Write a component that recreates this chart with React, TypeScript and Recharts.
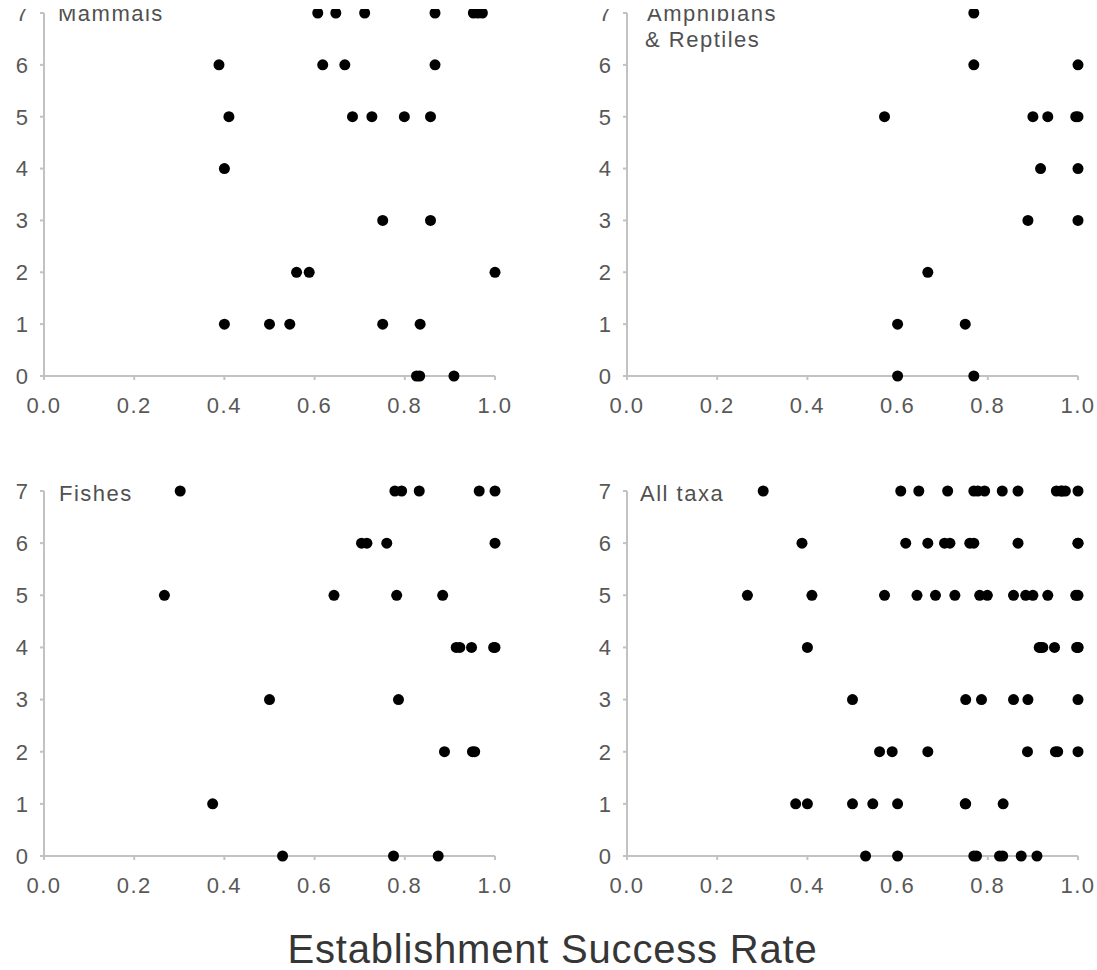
import React from 'react';
import { ScatterChart, Scatter, XAxis, YAxis } from 'recharts';

// Establishment success rate (x) vs. rank / category (y)
const mammals = [
  { rate: 0.607, n: 7 }, { rate: 0.647, n: 7 }, { rate: 0.711, n: 7 }, { rate: 0.867, n: 7 },
  { rate: 0.952, n: 7 }, { rate: 0.962, n: 7 }, { rate: 0.972, n: 7 },
  { rate: 0.388, n: 6 }, { rate: 0.618, n: 6 }, { rate: 0.667, n: 6 }, { rate: 0.867, n: 6 },
  { rate: 0.41, n: 5 }, { rate: 0.684, n: 5 }, { rate: 0.727, n: 5 }, { rate: 0.799, n: 5 }, { rate: 0.857, n: 5 },
  { rate: 0.4, n: 4 },
  { rate: 0.751, n: 3 }, { rate: 0.857, n: 3 },
  { rate: 0.56, n: 2 }, { rate: 0.588, n: 2 }, { rate: 1.0, n: 2 },
  { rate: 0.4, n: 1 }, { rate: 0.5, n: 1 }, { rate: 0.545, n: 1 }, { rate: 0.751, n: 1 }, { rate: 0.834, n: 1 },
  { rate: 0.826, n: 0 }, { rate: 0.833, n: 0 }, { rate: 0.909, n: 0 },
];

const amphibiansReptiles = [
  { rate: 0.769, n: 7 },
  { rate: 0.769, n: 6 }, { rate: 1.0, n: 6 },
  { rate: 0.571, n: 5 }, { rate: 0.9, n: 5 }, { rate: 0.933, n: 5 }, { rate: 0.995, n: 5 }, { rate: 1.0, n: 5 },
  { rate: 0.917, n: 4 }, { rate: 1.0, n: 4 },
  { rate: 0.889, n: 3 }, { rate: 1.0, n: 3 },
  { rate: 0.667, n: 2 },
  { rate: 0.6, n: 1 }, { rate: 0.75, n: 1 },
  { rate: 0.6, n: 0 }, { rate: 0.769, n: 0 },
];

const fishes = [
  { rate: 0.302, n: 7 }, { rate: 0.778, n: 7 }, { rate: 0.793, n: 7 }, { rate: 0.832, n: 7 }, { rate: 0.965, n: 7 }, { rate: 1.0, n: 7 },
  { rate: 0.704, n: 6 }, { rate: 0.716, n: 6 }, { rate: 0.76, n: 6 }, { rate: 1.0, n: 6 },
  { rate: 0.267, n: 5 }, { rate: 0.643, n: 5 }, { rate: 0.782, n: 5 }, { rate: 0.884, n: 5 },
  { rate: 0.914, n: 4 }, { rate: 0.922, n: 4 }, { rate: 0.948, n: 4 }, { rate: 0.997, n: 4 }, { rate: 1.0, n: 4 },
  { rate: 0.5, n: 3 }, { rate: 0.786, n: 3 },
  { rate: 0.888, n: 2 }, { rate: 0.95, n: 2 }, { rate: 0.955, n: 2 },
  { rate: 0.374, n: 1 },
  { rate: 0.529, n: 0 }, { rate: 0.775, n: 0 }, { rate: 0.874, n: 0 },
];

// "All taxa" panel pools the three groups
const allTaxa = [...mammals, ...amphibiansReptiles, ...fishes];

const xTicks = [0, 0.2, 0.4, 0.6, 0.8, 1.0];
const yTicks = [0, 1, 2, 3, 4, 5, 6, 7];
const panelLabels = ['Mammals', 'Amphibians', '& Reptiles', 'Fishes', 'All taxa'];
const axisTitle = 'Establishment Success Rate';

const FONT = '"Liberation Sans", Arial, Helvetica, sans-serif';
const AXIS = '#c2c2c2';
const TICK_TEXT = '#585858';

const Dot = (props: any) => {
  if (props.cx == null || props.cy == null) return null;
  return <circle cx={props.cx} cy={props.cy} r={5.5} fill="#000" />;
};

function Panel({ data, left, top, plotH }: { data: any[]; left: number; top: number; plotH: number }) {
  const tickStyle = { fontSize: 22, fill: TICK_TEXT, fontFamily: FONT, letterSpacing: 1.5 };
  return (
    <div style={{ position: 'absolute', left, top }}>
      <ScatterChart
        width={515}
        height={20 + plotH + 42 + 5}
        margin={{ top: 20, right: 20, bottom: 5, left: 0 }}
      >
        <XAxis
          type="number"
          dataKey="rate"
          domain={[0, 1]}
          ticks={xTicks}
          interval={0}
          tickFormatter={(v: number) => v.toFixed(1)}
          axisLine={{ stroke: AXIS, strokeWidth: 2 }}
          tickLine={{ stroke: AXIS, strokeWidth: 2 }}
          tickSize={4}
          tickMargin={17}
          height={42}
          tick={tickStyle}
        />
        <YAxis
          type="number"
          dataKey="n"
          domain={[0, 7]}
          ticks={yTicks}
          interval={0}
          axisLine={{ stroke: AXIS, strokeWidth: 2 }}
          tickLine={{ stroke: AXIS, strokeWidth: 2 }}
          tickSize={4}
          tickMargin={12}
          width={44}
          tick={{ fontSize: 22, fill: TICK_TEXT, fontFamily: FONT }}
        />
        <Scatter data={data} shape={Dot} isAnimationActive={false} />
      </ScatterChart>
    </div>
  );
}

export default function App() {
  const labelStyle = { fontSize: 22, fill: '#505050', fontFamily: FONT, letterSpacing: 1.5 } as any;
  return (
    <div
      style={{
        position: 'absolute',
        left: 0,
        top: 0,
        width: 1097,
        height: 970,
        overflow: 'hidden',
        background: '#fff',
      }}
    >
      <Panel data={mammals} left={0} top={-7.5} plotH={363} />
      <Panel data={amphibiansReptiles} left={582.5} top={-7.5} plotH={363} />
      <Panel data={fishes} left={0} top={470.7} plotH={365} />
      <Panel data={allTaxa} left={582.5} top={470.7} plotH={365} />
      <svg
        width={1097}
        height={970}
        style={{ position: 'absolute', left: 0, top: 0, pointerEvents: 'none' }}
      >
        <text x={58} y={21} style={labelStyle}>{panelLabels[0]}</text>
        <text x={647} y={21} style={labelStyle}>{panelLabels[1]}</text>
        <text x={645} y={47} style={labelStyle}>{panelLabels[2]}</text>
        <text x={59} y={501} style={labelStyle}>{panelLabels[3]}</text>
        <text x={640} y={501} style={labelStyle}>{panelLabels[4]}</text>
        <text
          x={552.5}
          y={963}
          textAnchor="middle"
          style={{ fontSize: 40, fill: '#363636', fontFamily: FONT, letterSpacing: 0.8 } as any}
        >
          {axisTitle}
        </text>
        {/* the reference image is cropped just above the top row */}
        <rect x={0} y={0} width={1097} height={9} fill="#fff" />
      </svg>
    </div>
  );
}
